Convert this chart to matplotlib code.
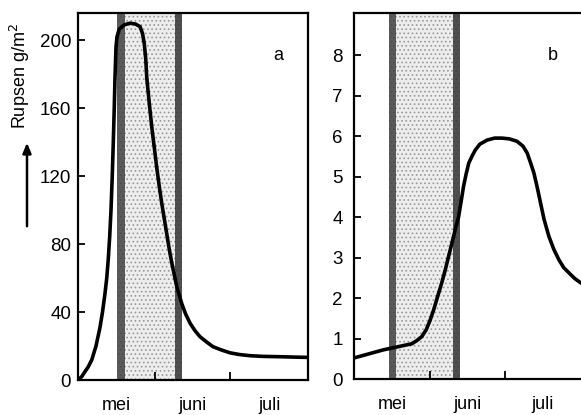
import matplotlib.pyplot as plt
from matplotlib.patches import FancyArrowPatch

plt.rcParams['font.family'] = ['Liberation Sans', 'DejaVu Sans']
plt.rcParams['hatch.color'] = '0.45'
plt.rcParams['hatch.linewidth'] = 0.7

# days counted from 1 May
months = ['mei', 'juni', 'juli']
month_starts = [0, 31, 61, 92]

# panel a: caterpillar biomass (g/m2)
days_a = [0, 1.5, 2.8, 4, 5.5, 7.2, 8.8, 9.8, 10.8, 11.5, 12.1, 12.7, 13.2, 13.7,
          14.1, 14.5, 14.8, 15.2, 15.6, 16.5, 18.5, 20.8, 23, 24.8, 25.8, 26.5,
          27.1, 27.5, 28.5, 29.5, 30.5, 31.5, 32.5, 33.5, 34.5, 35.5, 36.5, 37.5,
          38.5, 39.5, 40.5, 41.5, 43, 44.8, 46.8, 48.8, 51.5, 54, 57.5, 60.8,
          64.5, 68.8, 74, 80.8, 86, 92]
vals_a = [0, 2, 5, 7.5, 11.8, 20, 31, 40, 51, 60, 71, 85, 100, 120,
          139, 160, 178, 196, 202, 206.5, 209, 210, 209.5, 208, 204, 198,
          189, 178, 163, 149, 137, 125, 114, 104, 95, 86, 77, 69,
          62, 55, 50, 45, 39, 33.5, 29, 25.5, 22.3, 19.6, 17.6, 16,
          15, 14.3, 13.9, 13.7, 13.5, 13.3]

# panel b
days_b = [0, 11.9, 23.4, 25.5, 27.5, 29.3, 30.9, 32.4, 33.9, 35.5, 37, 38.3,
          39.7, 41, 42.4, 43.4, 44.4, 45.4, 46.5, 47.8, 49.2, 51, 53.9, 57,
          60, 63, 66.1, 68.5, 70.2, 71.5, 72.9, 74.2, 75.6, 77, 79, 81, 83,
          85, 87.8, 89.5, 92]
vals_b = [0.52, 0.72, 0.87, 0.95, 1.05, 1.22, 1.46, 1.73, 2.04, 2.36, 2.7, 3.02,
          3.36, 3.68, 4.01, 4.38, 4.76, 5.05, 5.33, 5.5, 5.66, 5.8, 5.9, 5.95,
          5.95, 5.93, 5.87, 5.75, 5.58, 5.35, 5.09, 4.75, 4.35, 3.95, 3.52, 3.2, 2.95,
          2.75, 2.58, 2.48, 2.37]

# shaded period (start, end)
band_a = (15.6, 41.6)
band_b = (14.0, 43.1)

fig = plt.figure(figsize=(5.81, 4.15), dpi=100)
ax_a = fig.add_axes([78 / 581, 35 / 415, 230 / 581, 367 / 415])
ax_b = fig.add_axes([354 / 581, 36 / 415, 227 / 581, 366 / 415])


def draw_band(ax, band):
    s, e = band
    ax.axvspan(s, e, facecolor='0.93', edgecolor='0.6', hatch='....', lw=0, zorder=1)
    ax.axvspan(s, s + 3.2, facecolor='0.25', lw=0, zorder=1, alpha=0.85)
    ax.axvspan(e - 2.8, e, facecolor='0.2', lw=0, zorder=1, alpha=0.85)


def style(ax, ylim, yticks):
    ax.set_xlim(0, 92)
    ax.set_ylim(*ylim)
    ax.set_yticks(yticks)
    ax.set_xticks(month_starts[1:3])
    ax.set_xticklabels([])
    ax.set_xticks([(a + b) / 2 for a, b in zip(month_starts[:-1], month_starts[1:])],
                  minor=True)
    ax.set_xticklabels(months, minor=True, fontsize=13)
    ax.tick_params(axis='x', which='major', direction='in', length=6, width=1.3)
    ax.tick_params(axis='x', which='minor', length=0, pad=12)
    ax.tick_params(axis='y', direction='in', length=5, width=1.3, labelsize=13.5, pad=5)
    for sp in ax.spines.values():
        sp.set_linewidth(1.6)


draw_band(ax_a, band_a)
ax_a.plot(days_a, vals_a, color='black', lw=2.6, zorder=3,
          solid_capstyle='round', solid_joinstyle='round')
style(ax_a, (0, 216), [0, 40, 80, 120, 160, 200])
ax_a.text(80, 191, 'a', fontsize=13, ha='center', va='center')

draw_band(ax_b, band_b)
ax_b.plot(days_b, vals_b, color='black', lw=2.6, zorder=3,
          solid_capstyle='round', solid_joinstyle='round')
style(ax_b, (0, 9.04), range(0, 9))
ax_b.tick_params(axis='y', pad=8)
ax_b.spines['right'].set_visible(False)
ax_b.text(80.4, 8.0, 'b', fontsize=13, ha='center', va='center')

fig.text(20 / 581, 1 - 76 / 415, 'Rupsen g/m$^2$', rotation=90, fontsize=13,
         ha='center', va='center')
arrow = FancyArrowPatch((27 / 581, 1 - 229 / 415), (27 / 581, 1 - 140 / 415),
                        transform=fig.transFigure, arrowstyle='-|>,head_length=6,head_width=2.5',
                        color='black', lw=1.8)
fig.patches.append(arrow)

fig.savefig('out.png', dpi=100)
